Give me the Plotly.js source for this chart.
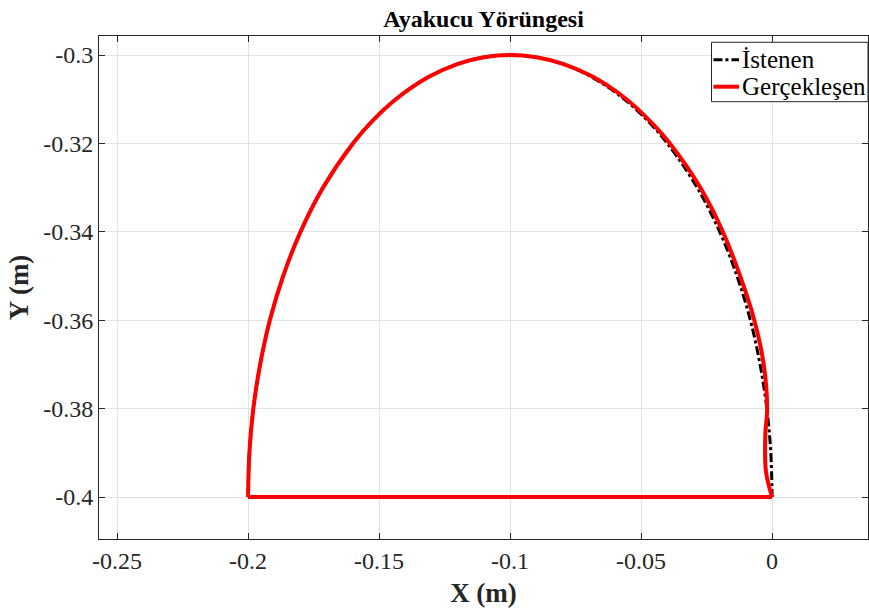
<!DOCTYPE html>
<html>
<head>
<meta charset="utf-8">
<script src="https://cdn.plot.ly/plotly-3.0.1.min.js"></script>
<style>html,body{margin:0;padding:0;background:#fff;}#chart{width:869px;height:612px;}</style>
</head>
<body>
<div id="chart"></div>
<script>
// Desired (İstenen) trajectory: arc then bottom segment
const desiredArcX = [-0.2, -0.1995, -0.1980, -0.1954, -0.1917, -0.1866, -0.1800, -0.1714, -0.1600, -0.1527, -0.1436, -0.1312, -0.1199, -0.1100, -0.1,
                     -0.0900, -0.0801, -0.0688, -0.0564, -0.0473, -0.0400, -0.0286, -0.0200, -0.0134, -0.0083, -0.0046, -0.0020, -0.0005, 0];
const desiredArcY = [-0.4, -0.39, -0.38, -0.37, -0.36, -0.35, -0.34, -0.33, -0.32, -0.315, -0.31, -0.305, -0.302, -0.3005, -0.3,
                     -0.3005, -0.302, -0.305, -0.31, -0.315, -0.32, -0.33, -0.34, -0.35, -0.36, -0.37, -0.38, -0.39, -0.4];
const desiredBaseX = [0, -0.1, -0.2];
const desiredBaseY = [-0.4, -0.4, -0.4];
// Realised (Gerçekleşen) trajectory
const actualArcX = [-0.2, -0.1995, -0.1980, -0.1954, -0.1917, -0.1866, -0.1800, -0.1714, -0.1600, -0.1527, -0.1436, -0.1312, -0.1199, -0.1100, -0.1,
                    -0.0900, -0.0798, -0.0682, -0.0556, -0.0465, -0.0390, -0.0274, -0.0188, -0.0122, -0.0068, -0.0032, -0.0019, -0.0026, -0.0024, -0.0012, 0];
const actualArcY = [-0.4, -0.39, -0.38, -0.37, -0.36, -0.35, -0.34, -0.33, -0.32, -0.315, -0.31, -0.305, -0.302, -0.3005, -0.3,
                    -0.3005, -0.302, -0.305, -0.31, -0.315, -0.32, -0.33, -0.34, -0.35, -0.36, -0.37, -0.38, -0.386, -0.394, -0.3975, -0.4];
const actualBaseX = [0, -0.1, -0.2];
const actualBaseY = [-0.4, -0.4, -0.4];
// Tick labels
const xTickVals = [-0.25, -0.2, -0.15, -0.1, -0.05, 0];
const xTickText = ['-0.25', '-0.2', '-0.15', '-0.1', '-0.05', '0'];
const yTickVals = [-0.4, -0.38, -0.36, -0.34, -0.32, -0.3];
const yTickText = ['-0.4', '-0.38', '-0.36', '-0.34', '-0.32', '-0.3'];
const seriesNames = ['İstenen', 'Gerçekleşen'];

const serif = 'Liberation Serif, Times New Roman, serif';
const traces = [
  {x: desiredArcX, y: desiredArcY, mode: 'lines', name: seriesNames[0],
   line: {color: '#000000', width: 3, dash: 'dashdot', shape: 'spline', smoothing: 1}},
  {x: desiredBaseX, y: desiredBaseY, mode: 'lines', name: seriesNames[0],
   line: {color: '#000000', width: 3, dash: 'dashdot'}},
  {x: actualArcX, y: actualArcY, mode: 'lines', name: seriesNames[1],
   line: {color: '#ff0000', width: 4, shape: 'spline', smoothing: 1}},
  {x: actualBaseX, y: actualBaseY, mode: 'lines', name: seriesNames[1],
   line: {color: '#ff0000', width: 4}}
];
const axisCommon = {
  showline: true, mirror: 'ticks', linecolor: '#262626', linewidth: 1,
  ticks: 'inside', ticklen: 6, tickcolor: '#262626', tickwidth: 1,
  showgrid: true, gridcolor: '#e3e3e3', gridwidth: 1, zeroline: false,
  tickfont: {family: serif, size: 24, color: '#262626'}, tickmode: 'array', automargin: false
};
// Legend box (drawn as shapes + text annotations, paper coordinates)
const lgX0 = 0.7965, lgX1 = 1.0, lgY0 = 0.8694, lgY1 = 0.9875;
const lgLineX0 = 0.7990, lgLineX1 = 0.8322, lgTextX = 0.8349;
const lgRowY = [0.9530, 0.8992];
const lgColors = ['#000000', '#ff0000'];
const lgDash = ['dashdot', 'solid'];
const lgWidth = [3, 4];
const shapes = [{type: 'rect', xref: 'paper', yref: 'paper', x0: lgX0, x1: lgX1, y0: lgY0, y1: lgY1,
                 fillcolor: '#ffffff', line: {color: '#262626', width: 1}, layer: 'above'}];
const annotations = [];
seriesNames.forEach((nm, i) => {
  shapes.push({type: 'line', xref: 'paper', yref: 'paper', x0: lgLineX0, x1: lgLineX1, y0: lgRowY[i], y1: lgRowY[i],
               line: {color: lgColors[i], width: lgWidth[i], dash: lgDash[i]}, layer: 'above'});
  annotations.push({xref: 'paper', yref: 'paper', x: lgTextX, y: lgRowY[i], xanchor: 'left', yanchor: 'middle',
                    text: nm, showarrow: false, font: {family: serif, size: 25, color: '#000'}, xshift: -1});
});
const layout = {
  width: 869, height: 612,
  margin: {l: 99, r: 1, t: 36, b: 73},
  paper_bgcolor: '#ffffff', plot_bgcolor: '#ffffff',
  title: {text: '<b>Ayakucu Yörüngesi</b>', font: {family: serif, size: 24, color: '#000'},
          x: 0.5564, xanchor: 'center', y: 0.97, yanchor: 'middle'},
  xaxis: Object.assign({}, axisCommon, {range: [-0.2569, 0.0366], tickvals: xTickVals, ticktext: xTickText,
    title: {text: '<b>X (m)</b>', font: {family: serif, size: 27, color: '#262626'}, standoff: 10}}),
  yaxis: Object.assign({}, axisCommon, {range: [-0.4095, -0.2957], tickvals: yTickVals, ticktext: yTickText,
    title: {text: '<b>Y (m)</b>', font: {family: serif, size: 27, color: '#262626'}, standoff: 6}}),
  shapes: shapes, annotations: annotations,
  showlegend: false
};
Plotly.newPlot('chart', traces, layout, {displayModeBar: false, staticPlot: true});
</script>
</body>
</html>
